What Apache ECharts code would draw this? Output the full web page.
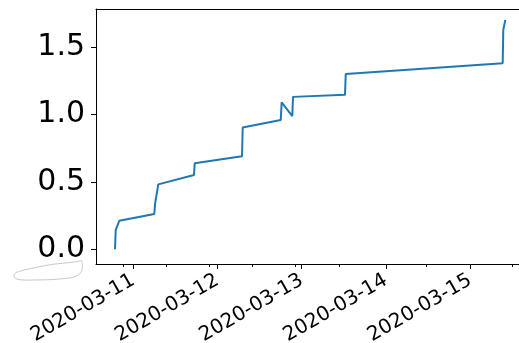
<!DOCTYPE html>
<html>
<head>
<meta charset="utf-8">
<script src="https://cdn.jsdelivr.net/npm/echarts@6/dist/echarts.min.js"></script>
<style>
html,body{margin:0;padding:0;background:#fff;}
#c{width:519px;height:343px;}
</style>
</head>
<body>
<div id="c"></div>
<script>
// ---- data ----
var times = ['2020-03-10 18:47','2020-03-10 18:59','2020-03-10 20:00','2020-03-11 05:59','2020-03-11 06:13','2020-03-11 07:07','2020-03-11 17:18','2020-03-11 17:30','2020-03-12 06:59','2020-03-12 07:11','2020-03-12 18:01','2020-03-12 18:17','2020-03-12 21:19','2020-03-12 21:31','2020-03-13 12:20','2020-03-13 12:33','2020-03-15 09:17','2020-03-15 09:27','2020-03-15 10:02'];
var values = [0.0, 0.143, 0.212, 0.262, 0.341, 0.482, 0.552, 0.638, 0.690, 0.903, 0.960, 1.091, 0.989, 1.131, 1.146, 1.300, 1.381, 1.628, 1.702];
var xTickLabels = ['2020-03-11','2020-03-12','2020-03-13','2020-03-14','2020-03-15'];
var xMinorTicks = ['2020-03-10 21:00','2020-03-11 09:24','2020-03-11 21:46','2020-03-12 10:02','2020-03-12 22:05','2020-03-13 10:43','2020-03-14 11:26','2020-03-15 12:02'];
var yTicks = [0.0, 0.5, 1.0, 1.5];
var xRange = ['2020-03-10 13:22','2020-03-15 14:30'];
var yRange = [-0.109, 1.783];

function toMs(s){
  var p = s.split(' ');
  var d = p[0].split('-');
  var t = (p[1] || '00:00').split(':');
  return Date.UTC(+d[0], +d[1]-1, +d[2], +t[0], +t[1]);
}
var seriesData = times.map(function(t,i){ return [toMs(t), values[i]]; });
var majorMs = xTickLabels.map(function(s){ return toMs(s); });
var minorMs = xMinorTicks.map(toMs);
var labelMap = {};
majorMs.forEach(function(m,i){ labelMap[m] = xTickLabels[i]; });
var xMin = toMs(xRange[0]), xMax = toMs(xRange[1]);

var chart = echarts.init(document.getElementById('c'), null, {renderer:'canvas'});
var font = 'DejaVu Sans';
var black = '#000';
function hidden(){ return {show:false}; }
function line(){ return {show:true, onZero:false, lineStyle:{color:black, width:1}}; }
chart.setOption({
  animation:false,
  backgroundColor:'#fff',
  grid:{left:96, top:9, width:425, height:255, containLabel:false, outerBoundsMode:'none'},
  xAxis:[{
    type:'value', min:xMin, max:xMax, position:'bottom', scale:true,
    axisLine:line(),
    axisTick:{show:true, length:5, lineStyle:{color:black, width:1}, customValues:majorMs},
    axisLabel:{show:true, rotate:30, margin:15, fontSize:20, fontFamily:font, color:black,
      customValues:majorMs, hideOverlap:false,
      formatter:function(v){ return labelMap[v] || ''; }},
    splitLine:hidden()
  },{
    type:'value', min:xMin, max:xMax, position:'top', scale:true,
    axisLine:line(),
    axisTick:hidden(), axisLabel:hidden(), splitLine:hidden()
  },{
    type:'value', min:xMin, max:xMax, position:'bottom', scale:true,
    axisLine:{show:false, onZero:false},
    axisTick:{show:true, length:3, lineStyle:{color:black, width:1}, customValues:minorMs},
    axisLabel:hidden(), splitLine:hidden()
  }],
  yAxis:[{
    type:'value', min:yRange[0], max:yRange[1], position:'left',
    axisLine:line(),
    axisTick:{show:true, length:5, lineStyle:{color:black, width:1}, customValues:yTicks},
    axisLabel:{show:true, margin:11, fontSize:30, fontFamily:font, color:black,
      customValues:yTicks, formatter:function(v){ return v.toFixed(1); }},
    splitLine:hidden()
  },{
    type:'value', min:yRange[0], max:yRange[1], position:'right',
    axisLine:line(),
    axisTick:hidden(), axisLabel:hidden(), splitLine:hidden()
  }],
  series:[{
    type:'line', xAxisIndex:0, yAxisIndex:0,
    data:seriesData, showSymbol:false, symbol:'none',
    lineStyle:{color:'#1f77b4', width:2}, itemStyle:{color:'#1f77b4'}
  }],
  graphic:[{
    type:'polyline', silent:true,
    shape:{smooth:0.4, points:[[81.7,260.7],[82.3,268.3],[78.3,275],[66.7,278.3],[33.3,280],[16.7,279],[14,275],[18.3,271.7],[36.7,267.3],[53.3,264.3],[71.7,262.3],[81.7,260.7]]},
    style:{stroke:'#c8c8c8', lineWidth:1, fill:null}
  }]
});
</script>
</body>
</html>
